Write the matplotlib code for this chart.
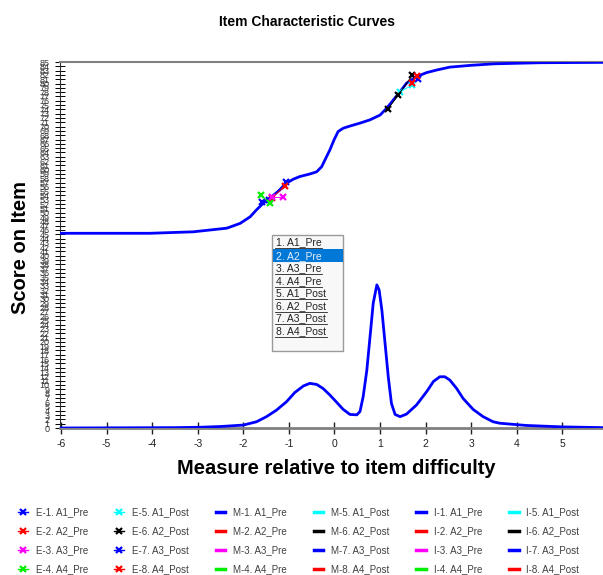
import matplotlib
matplotlib.use('Agg')
import matplotlib.pyplot as plt
from matplotlib.lines import Line2D
from matplotlib.patches import Rectangle

plt.rcParams['font.family'] = ['Liberation Sans', 'DejaVu Sans']

# expected score curve
ogive_x = [-6.0, -4.05, -3.10, -2.73, -2.36, -2.07, -1.85, -1.71, -1.53, -1.38, -1.20, -1.05,
           -0.90, -0.76, -0.54, -0.39, -0.28, -0.21, -0.10, -0.01, 0.08, 0.19, 0.34, 0.56,
           0.78, 1.00, 1.14, 1.29, 1.44, 1.58, 1.80, 2.02, 2.24, 2.53, 3.0, 3.5, 4.5, 5.9]
ogive_y = [0.532, 0.532, 0.536, 0.541, 0.546, 0.559, 0.577, 0.596, 0.618, 0.632, 0.650, 0.669,
           0.680, 0.687, 0.694, 0.700, 0.714, 0.732, 0.760, 0.787, 0.810, 0.819, 0.825, 0.833,
           0.842, 0.855, 0.873, 0.896, 0.919, 0.942, 0.960, 0.971, 0.978, 0.986, 0.991, 0.995,
           0.998, 0.999]

# information curve
info_x = [-6.0, -3.5, -2.95, -2.51, -2.00, -1.71, -1.49, -1.27, -1.05, -0.87, -0.68, -0.54,
          -0.39, -0.25, -0.10, 0.05, 0.19, 0.34, 0.49, 0.56, 0.63, 0.71, 0.78, 0.85, 0.93,
          0.98, 1.04, 1.11, 1.18, 1.25, 1.33, 1.44, 1.58, 1.80, 2.02, 2.17, 2.31, 2.42, 2.53,
          2.68, 2.82, 3.04, 3.26, 3.48, 3.63, 4.2, 5.0, 5.9]
info_y = [0.0, 0.001, 0.002, 0.004, 0.008, 0.017, 0.031, 0.049, 0.072, 0.097, 0.115, 0.122,
          0.119, 0.108, 0.090, 0.070, 0.051, 0.037, 0.036, 0.045, 0.086, 0.158, 0.249, 0.341,
          0.391, 0.377, 0.322, 0.231, 0.140, 0.067, 0.037, 0.031, 0.038, 0.063, 0.099, 0.127,
          0.140, 0.140, 0.131, 0.108, 0.081, 0.051, 0.031, 0.017, 0.013, 0.007, 0.003, 0.001]

series_names = ['A1_Pre', 'A2_Pre', 'A3_Pre', 'A4_Pre', 'A1_Post', 'A2_Post', 'A3_Post', 'A4_Post']
series_colors = ['#0000ff', '#ff0000', '#ff00ff', '#00ee00', '#00ffff', '#000000', '#0000ff', '#ff0000']

# empirical points for each series
emp_x = [[-1.60, -1.43, -1.06], [-1.38, -1.09], [-1.38, -1.12], [-1.61, -1.42],
         [1.44, 1.71], [1.17, 1.40, 1.71], [1.83], [1.69, 1.80]]
emp_y = [[0.618, 0.623, 0.673], [0.628, 0.661], [0.632, 0.632], [0.636, 0.615],
         [0.919, 0.937], [0.871, 0.910, 0.964], [0.953], [0.942, 0.962]]

listbox_items = ['1. A1_Pre', '2. A2_Pre', '3. A3_Pre', '4. A4_Pre',
                 '5. A1_Post', '6. A2_Post', '7. A3_Post', '8. A4_Post']
x_ticks = [-6, -5, -4, -3, -2, -1, 0, 1, 2, 3, 4, 5]
n_y_ticks = 86

W, H = 603, 575
fig = plt.figure(figsize=(W / 100, H / 100), dpi=100)
ax = fig.add_axes([60 / W, 147 / H, 543 / W, 366 / H])


def fx(px):
    return px / W


def fy(py):
    return 1 - py / H


# the curves
ax.plot(ogive_x, ogive_y, color='#0000ff', lw=2, solid_joinstyle='round', zorder=3)
ax.plot(info_x, info_y, color='#0000ff', lw=2, solid_joinstyle='round', zorder=3)
for i in range(len(series_names)):
    ax.plot(emp_x[i], emp_y[i], color=series_colors[i], lw=0.7, marker='x',
            ms=5, mew=1.6, zorder=4)

ax.set_xlim(-6.02, 5.89)
ax.set_ylim(0, 1)
ax.set_xticks(x_ticks)
ax.set_xticklabels([str(t) for t in x_ticks])
yt = [i / (n_y_ticks - 1) for i in range(n_y_ticks)]
ax.set_yticks(yt)
ax.set_yticklabels([str(i) for i in range(n_y_ticks)], color='#3a3a3a')

ax.spines['right'].set_visible(False)
ax.spines['top'].set_color('#808080')
ax.spines['top'].set_linewidth(1.5)
ax.spines['bottom'].set_color('#808080')
ax.spines['bottom'].set_linewidth(2)
ax.spines['left'].set_color('#303030')
ax.spines['left'].set_linewidth(0.8)
ax.tick_params(axis='y', direction='inout', length=7, width=0.7, labelsize=6.5, pad=4)
ax.tick_params(axis='x', direction='inout', length=8, width=1, labelsize=7.5, pad=4,
               colors='#222222')

fig.text(0.509, fy(22), 'Item Characteristic Curves', ha='center', va='center',
         fontsize=10, fontweight='bold')
fig.text(fx(336), fy(469), 'Measure relative to item difficulty', ha='center',
         va='center', fontsize=14.5, fontweight='bold')
fig.text(fx(21), fy(248), 'Score on Item', ha='center', va='center', rotation=90,
         fontsize=14.5, fontweight='bold')

# list box overlay
fig.add_artist(Rectangle((fx(272), fy(351)), 71 / W, 116 / H, transform=fig.transFigure,
                         facecolor='#f8f8f8', edgecolor='#9a9a9a', lw=1, zorder=10))
fig.add_artist(Rectangle((fx(273), fy(262)), 70 / W, 13 / H, transform=fig.transFigure,
                         facecolor='#0078d7', edgecolor='none', zorder=11))
item_y = [242, 256, 268, 281, 293, 306, 318, 331]
for k, item in enumerate(listbox_items):
    col = '#e6eef8' if k == 1 else '#222222'
    fig.text(fx(276), fy(item_y[k]), item, ha='left', va='center', fontsize=7.5,
             color=col, zorder=12)
    end = 322 if 'Pre' in item else 327
    fig.add_artist(Line2D([fx(275), fx(end)], [fy(item_y[k] + 6)] * 2,
                          transform=fig.transFigure, color=col, lw=0.6, zorder=12))

# legend
handles = []
labels = []
for i, n in enumerate(series_names):
    handles.append(Line2D([], [], color=series_colors[i], lw=1, marker='x', ms=5, mew=1.6))
    labels.append('E-%d. %s' % (i + 1, n))
for pre in ['M', 'I']:
    for i, n in enumerate(series_names):
        handles.append(Line2D([], [], color=series_colors[i], lw=2.5))
        labels.append('%s-%d. %s' % (pre, i + 1, n))
leg = fig.legend(handles, labels, ncol=6, loc='upper left',
                 bbox_to_anchor=(fx(18), fy(507.5)), frameon=False, fontsize=7,
                 handlelength=1.0, handletextpad=0.8, columnspacing=2.75,
                 labelspacing=0.92, borderpad=0, borderaxespad=0)
for t in leg.get_texts():
    t.set_color('#404040')

fig.savefig('out.png', dpi=100)
